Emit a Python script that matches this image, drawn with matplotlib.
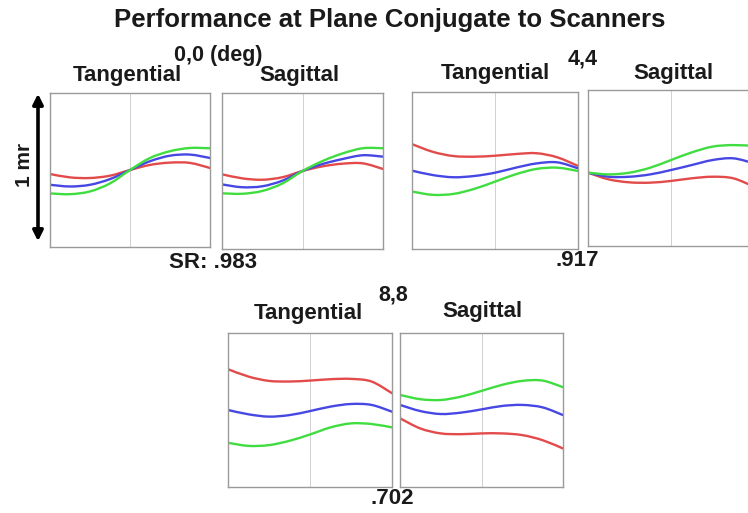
import matplotlib
matplotlib.use('Agg')
import matplotlib.pyplot as plt
from matplotlib.path import Path
from matplotlib.patches import PathPatch, FancyArrowPatch

plt.rcParams['font.family'] = ['Liberation Sans', 'DejaVu Sans']
plt.rcParams['font.weight'] = 'bold'

# pupil coordinate samples (normalized)
pupil = [-1.0, -0.75, -0.5, -0.25, 0.0, 0.25, 0.5, 0.75, 1.0]

# ray aberration (mr), field 0,0
t00_red = [-0.026, -0.048, -0.052, -0.037, 0.0, 0.033, 0.048, 0.046, 0.013]
t00_blue = [-0.096, -0.107, -0.096, -0.059, 0.0, 0.057, 0.093, 0.100, 0.078]
t00_green = [-0.152, -0.157, -0.139, -0.087, 0.0, 0.078, 0.122, 0.143, 0.141]
s00_red = [-0.021, -0.047, -0.056, -0.040, 0.0, 0.030, 0.047, 0.049, 0.013]
s00_blue = [-0.086, -0.104, -0.098, -0.062, 0.0, 0.045, 0.077, 0.101, 0.092]
s00_green = [-0.143, -0.146, -0.128, -0.080, 0.0, 0.064, 0.113, 0.146, 0.146]

# field 4,4
t44_red = [0.168, 0.119, 0.092, 0.088, 0.094, 0.105, 0.110, 0.084, 0.029]
t44_blue = [-0.001, -0.029, -0.043, -0.035, -0.014, 0.018, 0.045, 0.052, 0.014]
t44_green = [-0.134, -0.155, -0.149, -0.117, -0.071, -0.024, 0.010, 0.018, -0.003]
s44_red = [-0.030, -0.073, -0.092, -0.094, -0.083, -0.066, -0.056, -0.066, -0.120]
s44_blue = [-0.030, -0.056, -0.056, -0.041, -0.013, 0.019, 0.051, 0.062, 0.030]
s44_green = [-0.030, -0.041, -0.030, 0.002, 0.051, 0.100, 0.137, 0.147, 0.141]

# field 8,8
t88_red = [0.265, 0.217, 0.189, 0.185, 0.191, 0.200, 0.202, 0.185, 0.109]
t88_blue = [0.0, -0.028, -0.043, -0.033, -0.007, 0.022, 0.039, 0.033, -0.011]
t88_green = [-0.213, -0.233, -0.228, -0.200, -0.159, -0.113, -0.087, -0.091, -0.113]
s88_red = [-0.054, -0.120, -0.152, -0.157, -0.152, -0.152, -0.163, -0.196, -0.250]
s88_blue = [0.033, -0.007, -0.026, -0.017, 0.004, 0.026, 0.033, 0.017, -0.033]
s88_green = [0.098, 0.070, 0.065, 0.087, 0.124, 0.163, 0.189, 0.191, 0.148]

fields = ['0,0 (deg)', '4,4', '8,8']
strehl = ['SR: .983', '.917', '.702']

W, H = 748, 513
fig = plt.figure(figsize=(W / 100, H / 100), dpi=100)
fig.patch.set_facecolor('white')


def px_axes(l, t, r, b):
    return fig.add_axes([l / W, 1 - b / H, (r - l) / W, (b - t) / H])


def smooth_path(xs, ys):
    # Catmull-Rom segments drawn as cubic Bezier curves through the samples
    pts = list(zip(xs, ys))
    verts = [pts[0]]
    codes = [Path.MOVETO]
    n = len(pts)
    for i in range(n - 1):
        p0 = pts[max(i - 1, 0)]
        p1 = pts[i]
        p2 = pts[i + 1]
        p3 = pts[min(i + 2, n - 1)]
        c1 = (p1[0] + (p2[0] - p0[0]) / 6, p1[1] + (p2[1] - p0[1]) / 6)
        c2 = (p2[0] - (p3[0] - p1[0]) / 6, p2[1] - (p3[1] - p1[1]) / 6)
        verts += [c1, c2, p2]
        codes += [Path.CURVE4] * 3
    return Path(verts, codes)


def fan(ax, red, blue, green):
    for ys, c in ((red, '#e34a4a'), (blue, '#4747e3'), (green, '#40dd40')):
        ax.add_patch(PathPatch(smooth_path(pupil, ys), fill=False,
                               edgecolor=c, lw=1.7, capstyle='round'))
    ax.set_xlim(-1, 1)
    ax.set_ylim(-0.5, 0.5)
    ax.axvline(0, color='#d0d0d0', lw=0.7, zorder=0)
    ax.set_xticks([])
    ax.set_yticks([])
    for s in ax.spines.values():
        s.set_color('#9a9a9a')
        s.set_linewidth(1.0)


boxes = [
    (50, 93, 210, 247), (222, 93, 383, 249),
    (412, 92, 578, 249), (588, 90, 754, 246),
    (228, 333, 392, 487), (400, 333, 563, 487),
]
curves = [
    (t00_red, t00_blue, t00_green), (s00_red, s00_blue, s00_green),
    (t44_red, t44_blue, t44_green), (s44_red, s44_blue, s44_green),
    (t88_red, t88_blue, t88_green), (s88_red, s88_blue, s88_green),
]
for box, cv in zip(boxes, curves):
    ax = px_axes(*box)
    fan(ax, *cv)


def txt(x, y, s, size=16, **kw):
    fig.text(x / W, 1 - y / H, s, ha='center', va='center', fontsize=size,
             fontweight='bold', color='#1a1a1a', **kw)


txt(390, 20, 'Performance at Plane Conjugate to Scanners', size=18.5)

# field labels
txt(218, 56, fields[0], size=15.5)
txt(583, 59, fields[1], size=15.5)
txt(393, 295, fields[2], size=15.5)

# panel headers
txt(127, 76, 'Tangential')
txt(299, 76, 'Sagittal')
txt(495, 74, 'Tangential')
txt(673, 73, 'Sagittal')
txt(308, 313, 'Tangential')
txt(482, 312, 'Sagittal')

# Strehl ratios
txt(213, 262, strehl[0])
txt(577, 260, strehl[1])
txt(392, 499, strehl[2])

# 1 mr scale arrow
fig.patches.append(FancyArrowPatch(
    (38 / W, 1 - 91 / H), (38 / W, 1 - 244 / H), transform=fig.transFigure,
    arrowstyle='<|-|>', mutation_scale=15, lw=2.6, color='black'))
txt(24, 165, '1 mr', size=15, rotation=90)

fig.savefig('out.png', dpi=100)
